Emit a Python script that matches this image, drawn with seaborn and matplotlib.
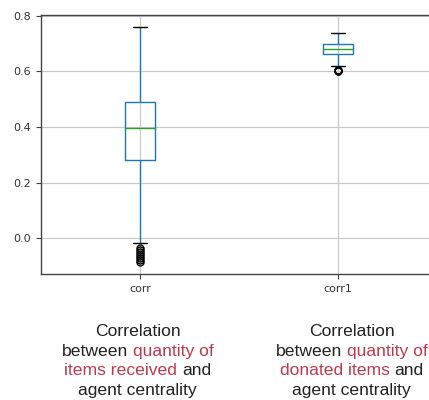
import numpy as np
import pandas as pd
import matplotlib
matplotlib.use("Agg")
import matplotlib.pyplot as plt
import seaborn as sns
from matplotlib.offsetbox import TextArea, HPacker, VPacker, AnnotationBbox

# values (outliers, low whisker, Q1, median, Q3, high whisker)
corr_values = [-0.085, -0.078, -0.070, -0.063, -0.056, -0.050, -0.042, -0.035,
               -0.018, 0.281, 0.397, 0.490, 0.760]
corr_counts = [1, 1, 1, 1, 1, 1, 1, 1, 1, 6, 11, 14, 1]
corr1_values = [0.600, 0.602, 0.604, 0.606, 0.620, 0.662, 0.680, 0.698, 0.739]
corr1_counts = [1, 1, 1, 1, 1, 10, 11, 14, 1]
columns = ["corr", "corr1"]

df = pd.concat([
    pd.DataFrame({"column": "corr", "value": np.repeat(corr_values, corr_counts)}),
    pd.DataFrame({"column": "corr1", "value": np.repeat(corr1_values, corr1_counts)}),
])

sns.set_theme(style="ticks", rc={
    "axes.edgecolor": "#444444",
    "axes.linewidth": 1.0,
    "grid.color": "#c8c8c8",
    "grid.linewidth": 0.8,
    "xtick.color": "#444444",
    "ytick.color": "#444444",
    "xtick.labelcolor": "#333333",
    "ytick.labelcolor": "#333333",
})
plt.rcParams["font.family"] = ["DejaVu Sans"]

fig = plt.figure(figsize=(4.29, 4.0), dpi=100)
ax = fig.add_axes([41 / 429, 1 - 274 / 400, 396 / 429, (274 - 15) / 400])

sns.boxplot(data=df, x="column", y="value", order=columns, ax=ax,
            width=0.15, fill=False, color="#1f77b4", linewidth=1.0,
            boxprops=dict(color="#1f77b4"),
            whiskerprops=dict(color="#1f77b4"),
            capprops=dict(color="black"),
            medianprops=dict(color="#2ca02c"),
            flierprops=dict(marker="o", markersize=5, markerfacecolor="none",
                            markeredgecolor="black", markeredgewidth=1.0))

ax.set_xlim(-0.5, 1.5)
ax.set_ylim(-0.128, 0.803)
ax.set_yticks([0.0, 0.2, 0.4, 0.6, 0.8])
ax.grid(True)
ax.set_axisbelow(True)
ax.set_xlabel("")
ax.set_ylabel("")
ax.tick_params(labelsize=8, length=3.5, width=0.8)
for s in ax.spines.values():
    s.set_visible(True)

red = "#c0394b"
black = "#222222"
font = dict(fontsize=12.6, family="Liberation Sans")


def caption(lines, x, y):
    rows = []
    for parts in lines:
        boxes = [TextArea(t, textprops=dict(color=c, **font)) for t, c in parts]
        rows.append(HPacker(children=boxes, align="baseline", pad=0, sep=3.5))
    pack = VPacker(children=rows, align="center", pad=0, sep=3.2)
    ab = AnnotationBbox(pack, (x, y), xycoords="figure fraction",
                        frameon=False, box_alignment=(0.5, 0.5))
    fig.add_artist(ab)


caption([[("Correlation", black)],
         [("between", black), ("quantity of", red)],
         [("items received", red), ("and", black)],
         [("agent centrality", black)]], 137.5 / 429, 1 - 361 / 400)
caption([[("Correlation", black)],
         [("between", black), ("quantity of", red)],
         [("donated items", red), ("and", black)],
         [("agent centrality", black)]], 351.5 / 429, 1 - 361 / 400)

fig.savefig("out.png", dpi=100)
